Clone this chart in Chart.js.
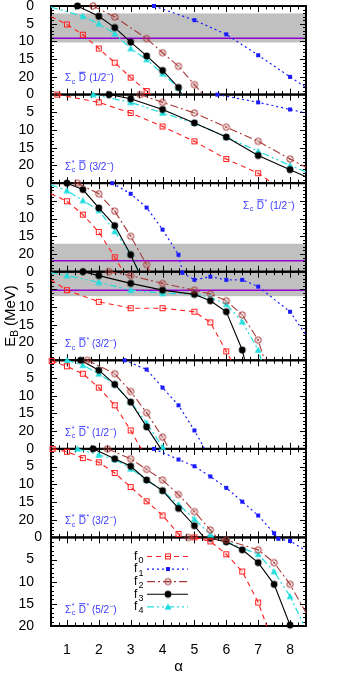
<!DOCTYPE html>
<html lang="en">
<head>
<meta charset="UTF-8">
<title>E_B versus alpha</title>
<script src="https://cdn.jsdelivr.net/npm/chart.js@4"></script>
<style>
  html, body { margin: 0; padding: 0; background: #fff; }
  #chart { display: block; }
</style>
</head>
<body>
<canvas id="chart" width="340" height="680"></canvas>
<script>
// ---- data ----
const alphaTicks = [1, 2, 3, 4, 5, 6, 7, 8];
const ebTicks = [0, 5, 10, 15, 20];
const ebMax = [25, 25, 25, 25, 25, 25, 20];
const seriesNames = ['f0', 'f1', 'f2', 'f3', 'f4'];
const sigmaStar = [false, true, false, false, true, true, true];
const dStar = [false, false, true, true, true, true, true];
const spinParity = ['1/2', '3/2', '1/2', '3/2', '1/2', '3/2', '5/2'];
const bandFrom = [2.1, null, 17.1, 0, null, null, null];
const bandTo = [10.3, null, 25, 6.9, null, null, null];
const violetAt = [9.1, null, 21.9, 5.2, null, null, null];

// [alpha, E_B] per panel
const f0 = [
  [[0.5, 3.0], [1, 5.2], [1.5, 8.1], [2, 12.0], [2.5, 16.0], [3, 20.2], [3.5, 24.0], [3.63, 25]],
  [[0.7, 0], [2, 2.2], [3, 5.2], [4, 9.0], [5, 13.2], [6, 18.2], [7, 22.2], [7.45, 25]],
  [[0.5, 3.0], [1, 5.1], [1.5, 8.9], [2, 13.8], [2.5, 20.9], [2.77, 25]],
  [[0.5, 2.3], [1, 5.2], [2, 8.5], [3, 10.3], [4, 10.3], [5, 11.3], [5.5, 14.3], [6, 22.5], [6.15, 25]],
  [[0.52, 0.2], [1, 1.7], [1.5, 3.8], [2, 7.7], [2.5, 12.7], [3, 19.8], [3.33, 25]],
  [[0.55, 0], [1, 0.8], [1.5, 2.6], [2, 3.8], [2.5, 6.8], [3, 10.8], [3.5, 14.8], [4, 18.8], [4.5, 24.0], [4.6, 25]],
  [[5, 0], [5.5, 0.9], [6, 3.8], [6.5, 7.7], [7, 14.7], [7.27, 20]]
];
const f1 = [
  [[3.73, 0], [5, 4.0], [6, 8.0], [7, 13.9], [8, 20.0], [8.5, 23.0]],
  [[5.72, 0], [7, 2.2], [8, 4.2], [8.5, 5.2]],
  [[2.42, 0], [3, 3.0], [3.5, 6.9], [4, 13.1], [4.5, 20.2], [4.63, 25]],
  [[4.62, 0.3], [5, 2.3], [5.5, 1.4], [6, 2.3], [6.5, 2.3], [7, 4.2], [8, 11.3], [8.5, 17.9]],
  [[2.81, 0], [3.5, 2.6], [4, 7.7], [4.5, 12.7], [5, 19.8], [5.32, 25]],
  [[3.73, 0], [4.5, 3.0], [5, 4.9], [5.5, 7.8], [6, 11.0], [6.5, 14.9], [7, 18.8], [7.5, 23.8], [7.58, 25]],
  [[7.63, 0.3], [8, 0.8], [8.5, 3.0]]
];
const f2 = [
  [[1.82, 0], [2.5, 3.1], [3.5, 9.2], [4, 13.2], [4.5, 17.0], [5, 22.2], [5.27, 25]],
  [[3.3, 0], [4, 2.2], [5, 5.2], [6, 9.2], [7, 13.2], [8, 18.2], [8.5, 20.5]],
  [[1.33, 0], [2, 3.0], [2.5, 7.9], [3, 15.0], [3.5, 23.0], [3.6, 25]],
  [[2.32, 0], [3, 1.1], [4, 3.3], [5, 5.2], [5.5, 6.3], [6, 8.2], [6.5, 12.2], [7, 19.3], [7.2, 25]],
  [[1.64, 0], [2.5, 3.8], [3, 8.8], [3.5, 14.8], [4, 21.7], [4.2, 25]],
  [[2.27, 0], [3, 2.8], [3.5, 5.8], [4, 8.8], [4.5, 12.9], [5, 17.7], [5.5, 22.9], [5.7, 25]],
  [[4.81, 0], [6, 0.6], [7, 2.8], [7.5, 5.7], [8, 10.6], [8.5, 17.0]]
];
const f3 = [
  [[1.33, 0], [2, 2.9], [2.5, 6.1], [3, 10.2], [3.5, 14.1], [4, 18.2], [4.5, 23.0], [4.6, 25]],
  [[2.32, 0], [3, 1.2], [4, 4.2], [5, 8.0], [6, 12.0], [7, 17.2], [8, 21.2], [8.5, 23.2]],
  [[1, 0], [1.5, 1.8], [2, 7.0], [2.5, 12.0], [3, 20.2], [3.25, 25]],
  [[1.5, 0], [2, 1.1], [3, 3.3], [4, 5.2], [5, 6.4], [5.5, 8.2], [6, 11.3], [6.5, 22.1], [6.58, 25]],
  [[1.43, 0], [2, 2.8], [2.5, 6.8], [3, 11.8], [3.5, 18.8], [3.95, 25]],
  [[1.82, 0], [2.5, 2.8], [3, 4.9], [3.5, 8.8], [4, 11.8], [4.5, 16.8], [5, 21.7], [5.3, 25]],
  [[5.5, 0.2], [6, 1.0], [6.5, 2.8], [7, 5.7], [7.5, 10.6], [8, 19.8], [8.02, 20]]
];
const f4 = [
  [[0.5, 0.3], [1.5, 2.9], [2, 5.0], [2.5, 7.8], [3, 12.0], [3.5, 15.1], [4, 19.1], [4.5, 23.1], [4.62, 25]],
  [[1.82, 0], [3, 2.2], [4, 5.2], [5, 8.0], [6, 12.0], [7, 16.0], [8, 20.0], [8.5, 21.8]],
  [[0.5, 0.5], [1, 2.1], [1.5, 4.9], [2, 7.7], [2.5, 13.6], [3, 20.0], [3.25, 25]],
  [[0.5, 0.3], [1, 1.1], [2, 3.0], [3, 5.2], [4, 6.1], [5, 6.3], [5.5, 7.2], [6, 9.2], [6.5, 14.1], [7, 22.1], [7.1, 25]],
  [[1, 0], [1.5, 1.4], [2, 3.8], [2.5, 6.8], [3, 11.8], [3.5, 17.7], [4, 24.5], [4.04, 25]],
  [[1.33, 0], [2, 1.7], [2.5, 3.0], [3, 5.6], [3.5, 8.8], [4, 11.8], [4.5, 15.7], [5, 19.8], [5.5, 24.2], [5.6, 25]],
  [[6, 1.0], [7, 3.8], [7.5, 7.7], [8, 13.3], [8.45, 20]]
];
const allSeries = [f0, f1, f2, f3, f4];

// ---- looks ----
const fam = '"Liberation Sans", Arial, Helvetica, sans-serif';
const tickFont = { family: fam, size: 14 };
const looks = [
  { color: '#ff1f1f', dash: [5, 4], width: 1.1, marker: 'sqOpen' },
  { color: '#1a1aff', dash: [2, 3], width: 1.2, marker: 'sqFill' },
  { color: '#a83a3a', dash: [8, 3, 2, 3], width: 1.1, marker: 'circX' },
  { color: '#000000', dash: [], width: 1.1, marker: 'circFill' },
  { color: '#22dede', dash: [7, 3, 2, 3, 2, 3], width: 1.2, marker: 'triFill' }
];
const labelBlue = '#3a3aff';

function makeMarker(kind, color) {
  const c = document.createElement('canvas');
  c.width = 10; c.height = 10;
  const g = c.getContext('2d');
  g.strokeStyle = color; g.fillStyle = color; g.lineWidth = 1;
  if (kind === 'sqOpen') {
    g.strokeRect(2.5, 2.5, 5, 5);
    g.fillRect(4.5, 4.5, 1, 1);
  } else if (kind === 'sqFill') {
    g.fillRect(3, 3, 4, 4);
  } else if (kind === 'circX') {
    g.beginPath(); g.arc(5, 5, 3.2, 0, 2 * Math.PI); g.stroke();
    g.globalAlpha = 0.6;
    g.beginPath(); g.moveTo(3.3, 3.3); g.lineTo(6.7, 6.7); g.moveTo(6.7, 3.3); g.lineTo(3.3, 6.7); g.stroke();
  } else if (kind === 'circFill') {
    g.beginPath(); g.arc(5, 5, 3.4, 0, 2 * Math.PI); g.fill();
  } else if (kind === 'triFill') {
    g.beginPath(); g.moveTo(5, 1.5); g.lineTo(8.5, 7.8); g.lineTo(1.5, 7.8); g.closePath(); g.fill();
  }
  return c;
}
const markers = looks.map(l => makeMarker(l.marker, l.color));

// ---- datasets ----
const datasets = [];
ebMax.forEach((max, p) => {
  allSeries.forEach((series, s) => {
    datasets.push({
      label: seriesNames[s],
      yAxisID: 'y' + p,
      data: series[p].map(([x, y]) => ({ x, y })),
      showLine: true,
      borderColor: looks[s].color,
      borderWidth: looks[s].width,
      borderDash: looks[s].dash,
      pointStyle: markers[s],
      pointRadius: ctx => {
        const r = ctx.raw;
        if (!r) return 0;
        return (r.x <= 0.5 || r.x >= 8.5 || r.y >= max) ? 0 : 4;
      },
      tension: 0,
      fill: false,
      clip: 6
    });
  });
});

// ---- scales ----
const scales = {
  x: {
    type: 'linear', position: 'bottom', min: 0.5, max: 8.5,
    afterBuildTicks: s => { s.ticks = alphaTicks.map(v => ({ value: v })); },
    afterFit: s => { s.height = 54; },
    grid: { display: false }, border: { display: false },
    ticks: { color: '#000', padding: 8, autoSkip: false, maxRotation: 0, font: tickFont },
    title: { display: true, text: 'α', color: '#000', font: { family: fam, size: 15 }, padding: { top: 0, bottom: 4 } }
  }
};
const last = ebMax.length - 1;
ebMax.forEach((max, p) => {
  // the "0" of the last panel is written by the frame plugin
  const values = p === last ? ebTicks.filter(v => v > 0) : ebTicks;
  scales['y' + p] = {
    type: 'linear', position: 'left', stack: 'panels', stackWeight: 1, weight: 10 - p,
    reverse: true, min: 0, max: max,
    afterBuildTicks: s => { s.ticks = values.map(v => ({ value: v })); },
    afterFit: s => { s.width = 51; s.paddingTop = 6; s.paddingBottom = 6; },
    grid: { display: false }, border: { display: false },
    ticks: { color: '#000', padding: 9, autoSkip: false, font: tickFont }
  };
});

// ---- frame, bands, labels, legend ----
function drawPanelLabel(ctx, x, y, p) {
  const big = '10px ' + fam, small = '7px ' + fam;
  ctx.fillStyle = labelBlue;
  ctx.textAlign = 'left';
  ctx.textBaseline = 'alphabetic';
  ctx.font = big;
  ctx.fillText('Σ', x, y);
  x += ctx.measureText('Σ').width + 0.5;
  ctx.font = small;
  if (sigmaStar[p]) ctx.fillText('*', x, y - 5);
  ctx.fillText('c', x, y + 2.5);
  x += ctx.measureText('c').width + 3.5;
  ctx.font = big;
  const dw = ctx.measureText('D').width;
  ctx.fillText('D', x, y);
  ctx.fillRect(x + 0.5, y - 9.5, dw - 1, 1);
  x += dw + 0.5;
  if (dStar[p]) {
    ctx.font = small;
    ctx.fillText('*', x, y - 5);
    x += ctx.measureText('*').width;
  }
  ctx.font = big;
  const t = ' (' + spinParity[p];
  ctx.fillText(t, x, y);
  x += ctx.measureText(t).width;
  ctx.font = small;
  ctx.fillText('−', x, y - 4);
  x += ctx.measureText('−').width;
  ctx.font = big;
  ctx.fillText(')', x, y);
}

const framePlugin = {
  id: 'frame',
  beforeDatasetsDraw(chart) {
    const ctx = chart.ctx, xs = chart.scales.x;
    const L = xs.left, R = xs.right;
    ctx.save();
    ebMax.forEach((max, p) => {
      const ys = chart.scales['y' + p];
      if (bandFrom[p] != null) {
        const a = ys.getPixelForValue(bandFrom[p]), b = ys.getPixelForValue(bandTo[p]);
        ctx.fillStyle = '#c0c0c0';
        ctx.fillRect(L, a, R - L, b - a);
      }
      if (violetAt[p] != null) {
        const v = ys.getPixelForValue(violetAt[p]);
        ctx.strokeStyle = '#9400d3'; ctx.lineWidth = 1.5;
        ctx.beginPath(); ctx.moveTo(L, v); ctx.lineTo(R, v); ctx.stroke();
      }
    });
    ctx.strokeStyle = '#000';
    ctx.lineWidth = 1;
    ebMax.forEach((max, p) => {
      const ys = chart.scales['y' + p];
      const T = ys.top, B = ys.bottom;
      ctx.beginPath();
      for (let v = 1; v < max; v++) {
        const y = Math.round(ys.getPixelForValue(v)) + 0.5;
        const len = v % 5 === 0 ? 6 : 3;
        ctx.moveTo(L, y); ctx.lineTo(L + len, y);
        ctx.moveTo(R, y); ctx.lineTo(R - len, y);
      }
      for (let a = 0.75; a < 8.5; a += 0.25) {
        const x = Math.round(xs.getPixelForValue(a)) + 0.5;
        const len = Math.abs(a - Math.round(a)) < 1e-6 ? 6 : 3.5;
        ctx.moveTo(x, T); ctx.lineTo(x, T + len);
        ctx.moveTo(x, B); ctx.lineTo(x, B - len);
      }
      ctx.stroke();
    });
    ctx.lineWidth = 2;
    ebMax.forEach((max, p) => {
      const ys = chart.scales['y' + p];
      ctx.strokeRect(L, ys.top, R - L, ys.bottom - ys.top);
    });
    ctx.restore();
  },
  afterDatasetsDraw(chart) {
    const ctx = chart.ctx, xs = chart.scales.x, area = chart.chartArea;
    const L = xs.left;
    ctx.save();
    // "0" on the border between the last two panels
    const yl = chart.scales['y' + last];
    ctx.fillStyle = '#000';
    ctx.font = tickFont.size + 'px ' + fam;
    ctx.textAlign = 'right';
    ctx.textBaseline = 'middle';
    ctx.fillText('0', yl.right - 9, yl.getPixelForValue(0));
    // panel labels
    ebMax.forEach((max, p) => {
      const ys = chart.scales['y' + p];
      const h = ys.bottom - ys.top;
      if (p === 2) drawPanelLabel(ctx, L + 192, ys.top + 0.29 * h, p);
      else drawPanelLabel(ctx, L + 14, ys.top + 0.85 * h, p);
    });
    // legend in last panel
    seriesNames.forEach((name, s) => {
      const y = yl.top + 19 + 12.6 * s;
      ctx.fillStyle = '#000';
      ctx.textBaseline = 'middle';
      ctx.textAlign = 'left';
      ctx.font = '12px ' + fam;
      ctx.fillText('f', L + 83, y);
      ctx.font = '9px ' + fam;
      ctx.fillText(name.slice(1), L + 87.5, y + 4);
      ctx.save();
      ctx.strokeStyle = looks[s].color;
      ctx.lineWidth = looks[s].width;
      ctx.setLineDash(looks[s].dash);
      ctx.beginPath(); ctx.moveTo(L + 96, y); ctx.lineTo(L + 137, y); ctx.stroke();
      ctx.restore();
      ctx.drawImage(markers[s], L + 117 - 5, y - 5);
    });
    // y axis title
    ctx.translate(11, (area.top + area.bottom) / 2);
    ctx.rotate(-Math.PI / 2);
    ctx.fillStyle = '#000';
    ctx.textBaseline = 'middle';
    ctx.textAlign = 'left';
    const big = '15px ' + fam, sub = '10px ' + fam;
    ctx.font = big; const wE = ctx.measureText('E').width;
    ctx.font = sub; const wB = ctx.measureText('B').width;
    ctx.font = big; const wM = ctx.measureText(' (MeV)').width;
    let x = -(wE + wB + wM) / 2;
    ctx.fillText('E', x, 0); x += wE;
    ctx.font = sub; ctx.fillText('B', x, 4); x += wB;
    ctx.font = big; ctx.fillText(' (MeV)', x, 0);
    ctx.restore();
  }
};

new Chart(document.getElementById('chart'), {
  type: 'scatter',
  data: { datasets },
  options: {
    responsive: false,
    animation: false,
    events: [],
    layout: { padding: { top: 0, right: 34, bottom: 0, left: 0 } },
    plugins: { legend: { display: false }, tooltip: { enabled: false } },
    scales
  },
  plugins: [framePlugin]
});
</script>
</body>
</html>
